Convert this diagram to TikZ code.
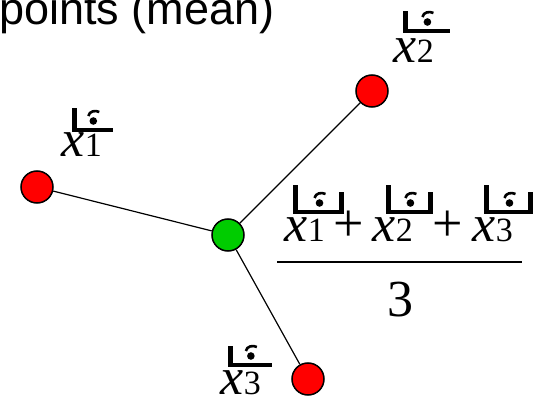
\documentclass[tikz,border=0pt]{standalone}
\usepackage{fontspec}
\setmainfont{Liberation Serif}
\newfontfamily\titlefont{Liberation Sans}
\definecolor{ptred}{RGB}{255,0,0}
\definecolor{ptgreen}{RGB}{0,204,0}
\newcommand{\subdig}[1]{\kern0.5pt{\fontsize{34}{34}\selectfont #1}}
\begin{document}
\begin{tikzpicture}[x=1pt,y=-1pt,
  ptbase/.style={circle,draw=black,line width=1.5pt,minimum size=32pt,inner sep=0pt},
  redpt/.style={ptbase,fill=ptred},
  greenpt/.style={ptbase,fill=ptgreen},
  conn/.style={line width=1.2pt},
  vlabel/.style={anchor=base west,inner sep=0pt,font=\fontsize{52}{52}\selectfont},
  plusop/.style={anchor=base,inner sep=0pt,font=\fontsize{54}{54}\selectfont},
  pics/brk/.style 2 args={code={
    \fill (0,0) rectangle (5,-#2);
    \fill (0,0) rectangle (#1,-4);
    \fill ({#1*0.52},-11) circle (3.8);
    \draw[line width=2.6pt] ({#1*0.52-5},-16) .. controls ({#1*0.52-4},-21) and ({#1*0.52+2},-22) .. ({#1*0.52+6},-20);
  }},
  pics/brkb/.style 2 args={code={
    \pic {brk={#1}{#2}};
    \fill ({#1-5},0) rectangle (#1,{-#2+7});
  }}
]
\useasboundingbox (0,0) rectangle (542,401);

% title
\node[anchor=base west,inner sep=0pt,font=\titlefont\fontsize{45}{45}\selectfont] (title) at (-1,25) {points (mean)};

% points
\node[greenpt] (c) at (228,235) {};
\node[redpt] (p1) at (37,187) {};
\node[redpt] (p2) at (372,91) {};
\node[redpt] (p3) at (308,379) {};
\draw[conn] (c) -- (p1);
\draw[conn] (c) -- (p2);
\draw[conn] (c) -- (p3);

% labels
\node[vlabel] (l1) at (61,157) {\textit{x}\subdig{1}};
\node[vlabel] (l2) at (393,63) {\textit{x}\subdig{2}};
\node[vlabel] (l3) at (220,395) {\textit{x}\subdig{3}};
\pic[shift={(11,-25)}] at (l1.base west) {brk={41}{24}};
\pic[shift={(10,-30)}] at (l2.base west) {brk={47}{22}};
\pic[shift={(8,-28)}] at (l3.base west) {brk={44}{21}};

% fraction
\node[vlabel] (n1) at (284,242) {\textit{x}\subdig{1}};
\node[plusop] (s1) at (349,242) {+};
\node[vlabel] (n2) at (372,242) {\textit{x}\subdig{2}};
\node[plusop] (s2) at (448,242) {+};
\node[vlabel] (n3) at (472,242) {\textit{x}\subdig{3}};
\pic[shift={(9,-28)}] at (n1.base west) {brkb={51}{29}};
\pic[shift={(14,-28)}] at (n2.base west) {brkb={47}{29}};
\pic[shift={(12,-28)}] at (n3.base west) {brkb={49}{29}};
\coordinate (bl) at (277,262);
\coordinate (br) at (522,262);
\draw[line width=2.2pt] (bl) -- (br);
\node[anchor=base,inner sep=0pt,font=\fontsize{52}{52}\selectfont] (den) at (400,317) {3};
\end{tikzpicture}
\end{document}
